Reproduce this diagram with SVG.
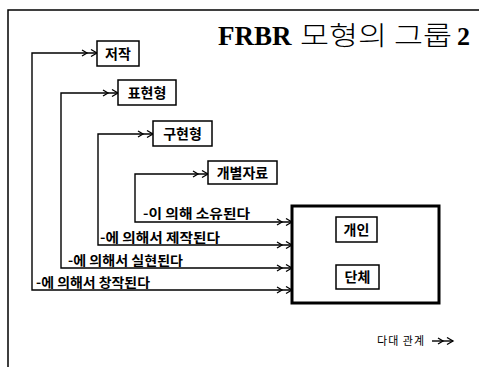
<svg xmlns="http://www.w3.org/2000/svg" width="479" height="367" viewBox="0 0 479 367">
<style>
.frame{fill:none;stroke:#000;stroke-width:1.5}
.box{fill:#fff;stroke:#000;stroke-width:1.5}
.big{fill:#fff;stroke:#000;stroke-width:3}
.conn{fill:none;stroke:#000;stroke-width:1.4}
.bt{font-family:"Noto Sans CJK KR","Noto Sans",sans-serif;font-weight:700;font-size:14px;text-anchor:middle}
.lbl{font-family:"Noto Sans CJK KR","Noto Sans",sans-serif;font-weight:700;font-size:13px}
.leg{font-family:"Noto Sans CJK KR","Noto Sans",sans-serif;font-weight:400;font-size:11px}
</style>
<defs>
<marker id="dbl" markerUnits="userSpaceOnUse" markerWidth="20" markerHeight="10" viewBox="-18 -5 20 10" refX="0" refY="0" orient="auto-start-reverse">
<path d="M-6,-3.5 L0,0 L-6,3.5 M-15,-3 L-10,0 L-15,3" fill="none" stroke="#000" stroke-width="1.3"/>
</marker>
</defs>
<rect width="479" height="367" fill="#fff"/>
<g id="frame">
<path class="frame" d="M8,367 L8,10 L479,10"/>
</g>
<g id="title">
<text x="218" y="45" font-family="Liberation Serif,serif" font-weight="700" font-size="27">FRBR</text>
<text x="300" y="45" font-family="Noto Sans CJK KR,sans-serif" font-weight="300" font-size="26" textLength="152" lengthAdjust="spacingAndGlyphs">모형의 그룹</text>
<text x="457" y="45" font-family="Liberation Serif,serif" font-weight="700" font-size="26">2</text>
</g>
<g id="connectors">
<path class="conn" d="M292,290 L32,290 L32,53 L97,53" marker-start="url(#dbl)" marker-end="url(#dbl)"/>
<path class="conn" d="M292,268 L61,268 L61,93 L118,93" marker-start="url(#dbl)" marker-end="url(#dbl)"/>
<path class="conn" d="M292,245 L98,245 L98,134 L153,134" marker-start="url(#dbl)" marker-end="url(#dbl)"/>
<path class="conn" d="M292,222 L135,222 L135,174 L208,174" marker-start="url(#dbl)" marker-end="url(#dbl)"/>
<text class="lbl" x="143" y="218" textLength="107" lengthAdjust="spacingAndGlyphs">-이 의해 소유된다</text>
<text class="lbl" x="100" y="242" textLength="120" lengthAdjust="spacingAndGlyphs">-에 의해서 제작된다</text>
<text class="lbl" x="68" y="265" textLength="115" lengthAdjust="spacingAndGlyphs">-에 의해서 실현된다</text>
<text class="lbl" x="36" y="287" textLength="114" lengthAdjust="spacingAndGlyphs">-에 의해서 창작된다</text>
</g>
<g id="n-work">
<rect class="box" x="97" y="41" width="42" height="25"/>
<text class="bt" x="118" y="58.5">저작</text>
</g>
<g id="n-expression">
<rect class="box" x="118" y="80" width="58" height="25"/>
<text class="bt" x="147" y="97.5">표현형</text>
</g>
<g id="n-manifestation">
<rect class="box" x="153" y="121" width="59" height="25"/>
<text class="bt" x="182.5" y="138.5">구현형</text>
</g>
<g id="n-item">
<rect class="box" x="208" y="161" width="69" height="23"/>
<text class="bt" x="242.5" y="177.5">개별자료</text>
</g>
<g id="n-group2">
<rect class="big" x="292" y="206" width="147" height="97"/>
</g>
<g id="n-person">
<rect class="box" x="336" y="217" width="41" height="25"/>
<text class="bt" x="356.5" y="234.5">개인</text>
</g>
<g id="n-corporate">
<rect class="box" x="336" y="265" width="43" height="24"/>
<text class="bt" x="357.5" y="282">단체</text>
</g>
<g id="legend">
<text class="leg" x="377" y="345" textLength="47" lengthAdjust="spacing">다대 관계</text>
<path class="conn" d="M432,341 L453,341" marker-end="url(#dbl)"/>
</g>
</svg>
